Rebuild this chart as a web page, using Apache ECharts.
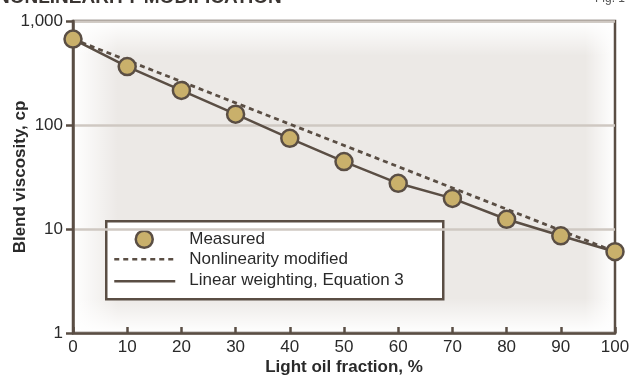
<!DOCTYPE html>
<html>
<head>
<meta charset="utf-8">
<script src="https://cdn.jsdelivr.net/npm/echarts@6/dist/echarts.min.js"></script>
<style>
  html, body { margin: 0; padding: 0; background: #ffffff; }
  #chart { width: 631px; height: 378px; }
</style>
</head>
<body>
<div id="chart"></div>
<script>
// Light oil fraction (%) at which blends were measured
const fractions = [0, 10, 20, 30, 40, 50, 60, 70, 80, 90, 100];
// Measured blend viscosity, cp
const measured = [670, 365, 215, 127, 74.5, 44.5, 27.5, 19.7, 12.4, 8.6, 6.05];
// Linear weighting, Equation 3
const linearWeighting = [670, 365, 215, 127, 74.5, 44.5, 27.5, 19.7, 12.4, 8.6, 6.05];
// Nonlinearity modified curve (end points)
const nonlinearX = [0, 100];
const nonlinearY = [670, 6.05];
// Tick labels
const xTicks = [0, 10, 20, 30, 40, 50, 60, 70, 80, 90, 100];
const yTicks = [1, 10, 100, 1000];

const brown = '#5a4e44';
const tan = '#c9b06b';
const textColor = '#2a2a2a';
const font = '"Liberation Sans", Arial, Helvetica, sans-serif';

// Plot rectangle
const G = { left: 73, top: 21, right: 615, bottom: 333 };
const GW = G.right - G.left, GH = G.bottom - G.top;

const chart = echarts.init(document.getElementById('chart'), null, { renderer: 'canvas' });

const pairs = (xs, ys) => xs.map((x, i) => [x, ys[i]]);

// Soft white fade along each inner edge of the plot panel
function edgeFade(x, y, w, h, gx, gy, gx2, gy2) {
  return {
    type: 'rect', z: -1, silent: true,
    shape: { x, y, width: w, height: h },
    style: {
      fill: new echarts.graphic.LinearGradient(gx, gy, gx2, gy2, [
        { offset: 0, color: 'rgba(255,255,255,1)' },
        { offset: 1, color: 'rgba(255,255,255,0)' }
      ])
    }
  };
}

chart.setOption({
  animation: false,
  textStyle: { fontFamily: font },
  grid: {
    left: G.left, right: 631 - G.right, top: G.top, bottom: 378 - G.bottom,
    containLabel: false,
    outerBoundsMode: 'none',
    show: true,
    borderColor: brown,
    borderWidth: 2.5,
    backgroundColor: 'transparent'
  },
  xAxis: {
    type: 'value',
    min: xTicks[0], max: xTicks[xTicks.length - 1], interval: 10,
    name: 'Light oil fraction, %',
    nameLocation: 'middle',
    nameGap: 26,
    nameMoveOverlap: false,
    nameTextStyle: { fontSize: 17, fontWeight: 'bold', color: textColor, fontFamily: font },
    axisLine: { show: true, lineStyle: { color: brown, width: 2.5 } },
    axisTick: { show: true, inside: true, length: 6, lineStyle: { color: brown, width: 2.5 } },
    axisLabel: { fontSize: 17, color: textColor, margin: 6, fontFamily: font },
    splitLine: { show: false }
  },
  yAxis: {
    type: 'log',
    logBase: 10,
    min: yTicks[0], max: yTicks[yTicks.length - 1],
    name: 'Blend viscosity, cp',
    nameLocation: 'middle',
    nameRotate: 90,
    nameGap: 44,
    nameMoveOverlap: false,
    nameTextStyle: { fontSize: 17, fontWeight: 'bold', color: textColor, fontFamily: font },
    axisLine: { show: true, lineStyle: { color: brown, width: 2.5 } },
    axisTick: { show: true, inside: false, length: 7, lineStyle: { color: brown, width: 2.5 } },
    axisLabel: {
      fontSize: 17, color: textColor, margin: 10, fontFamily: font,
      formatter: v => Number(v).toLocaleString('en-US')
    },
    splitLine: { show: true, lineStyle: { color: '#cfc8c2', width: 2.5 } },
    minorTick: { show: false },
    minorSplitLine: { show: false }
  },
  series: [
    {
      name: 'Nonlinearity modified',
      type: 'line',
      data: pairs(nonlinearX, nonlinearY),
      showSymbol: false,
      lineStyle: { color: brown, width: 2.8, type: [5, 4] },
      z: 2
    },
    {
      name: 'Linear weighting, Equation 3',
      type: 'line',
      data: pairs(fractions, linearWeighting),
      showSymbol: false,
      lineStyle: { color: brown, width: 2.5 },
      z: 3
    },
    {
      name: 'Measured',
      type: 'scatter',
      data: pairs(fractions, measured),
      symbol: 'circle',
      symbolSize: 17,
      itemStyle: { color: tan, borderColor: brown, borderWidth: 2.5, opacity: 1 },
      z: 4
    }
  ],
  graphic: [
    // Panel shading: light grey body with white fades at the edges
    { type: 'rect', z: -2, silent: true, shape: { x: G.left, y: G.top, width: GW, height: GH }, style: { fill: '#ece9e6' } },
    edgeFade(G.left, G.top, 45, GH, 0, 0, 1, 0),
    edgeFade(G.right - 30, G.top, 30, GH, 1, 0, 0, 0),
    edgeFade(G.left, G.top, GW, 35, 0, 0, 0, 1),
    edgeFade(G.left, G.bottom - 35, GW, 35, 0, 1, 0, 0),
    // Heading and figure number along the top edge
    {
      type: 'text', left: -4, top: -12,
      style: { text: 'NONLINEARITY MODIFICATION', fontSize: 19, fontWeight: 'bold', fill: '#3a3532', fontFamily: font }
    },
    {
      type: 'text', right: 6, top: -7,
      style: { text: 'Fig. 1', fontSize: 12, fill: '#555', fontFamily: font }
    },
    // Legend box
    {
      type: 'group', left: 105, top: 220, z: 10,
      children: [
        { type: 'rect', shape: { x: 0, y: 0, width: 337, height: 78 },
          style: { fill: '#ffffff', stroke: brown, lineWidth: 2.5 } },
        { type: 'circle', shape: { cx: 38, cy: 18, r: 8.5 },
          style: { fill: tan, stroke: brown, lineWidth: 2.5 } },
        { type: 'line', shape: { x1: 8, y1: 38, x2: 67, y2: 38 },
          style: { stroke: brown, lineWidth: 2.5, lineDash: [5, 4] } },
        { type: 'line', shape: { x1: 8, y1: 60, x2: 69, y2: 60 },
          style: { stroke: brown, lineWidth: 2.5 } },
        { type: 'text', x: 83, y: 18, style: { text: 'Measured', fontSize: 17, fill: textColor, verticalAlign: 'middle', fontFamily: font } },
        { type: 'text', x: 83, y: 38, style: { text: 'Nonlinearity modified', fontSize: 17, fill: textColor, verticalAlign: 'middle', fontFamily: font } },
        { type: 'text', x: 83, y: 59, style: { text: 'Linear weighting, Equation 3', fontSize: 17, fill: textColor, verticalAlign: 'middle', fontFamily: font } }
      ]
    }
  ]
});
</script>
</body>
</html>
